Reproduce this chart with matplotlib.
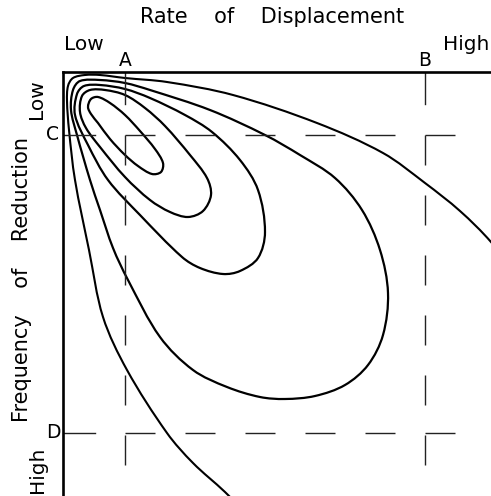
import numpy as np
import matplotlib
matplotlib.use("Agg")
import matplotlib.pyplot as plt
from matplotlib.path import Path
from matplotlib.patches import PathPatch

# schematic units: x grows to the right (rate), y grows downward (frequency)
outer_x = [258, 225, 193, 167, 127, 103, 89, 75, 69, 67, 68, 73, 85, 100, 125, 167, 233, 317, 383, 425, 460, 491, 520]
outer_y = [525, 492, 463, 433, 370, 317, 250, 180, 130, 101, 86, 78, 75, 75, 78, 82, 95, 123, 153, 183, 211, 242, 280]

big_x = [71, 73, 80, 100, 125, 150, 210, 265, 300, 335, 362, 380, 388, 383, 368, 345, 315, 285, 260, 227, 193, 160, 128, 113, 100, 90, 77]
big_y = [110, 90, 81, 80, 83, 90, 110, 135, 155, 178, 210, 250, 293, 335, 365, 385, 396, 399, 397, 387, 370, 337, 280, 248, 210, 180, 135]

mid_x = [75, 77, 84, 100, 125, 150, 185, 212, 240, 258, 265, 258, 240, 223, 200, 182, 140, 108, 88]
mid_y = [115, 94, 86, 85, 89, 98, 115, 132, 160, 190, 232, 258, 271, 274, 268, 257, 215, 180, 145]

small_x = [80, 82, 90, 105, 125, 145, 165, 190, 207, 211, 203, 188, 170, 150, 125, 100, 86]
small_y = [112, 96, 90, 90, 95, 108, 126, 155, 178, 195, 211, 217, 212, 200, 177, 147, 128]

inner_x = [88, 91, 98, 110, 125, 140, 155, 163, 161, 152, 138, 125, 110, 98, 91]
inner_y = [107, 99, 97, 103, 115, 131, 149, 163, 172, 174, 166, 155, 139, 123, 114]

grid_x = [125, 425]   # A, B
grid_y = [135, 433]   # C, D
x0, y0 = 63, 72       # Low / Low corner
tick_len = 32
dash_x_end, dash_y_end = 456, 465


def smooth_path(xs, ys, closed=False):
    pts = np.column_stack([xs, ys]).astype(float)
    n = len(pts)
    if closed:
        prev = np.roll(pts, 1, axis=0)
        nxt = np.roll(pts, -1, axis=0)
    else:
        prev = np.vstack([pts[0], pts[:-1]])
        nxt = np.vstack([pts[1:], pts[-1]])
    d_prev = np.linalg.norm(pts - prev, axis=1)
    d_next = np.linalg.norm(nxt - pts, axis=1)
    tang = (nxt - prev) / (d_prev + d_next)[:, None]
    verts = [pts[0]]
    codes = [Path.MOVETO]
    segs = n if closed else n - 1
    for i in range(segs):
        j = (i + 1) % n
        d = np.linalg.norm(pts[j] - pts[i])
        verts += [pts[i] + tang[i] * d / 3, pts[j] - tang[j] * d / 3, pts[j]]
        codes += [Path.CURVE4] * 3
    return Path(verts, codes)


fig = plt.figure(figsize=(4.91, 4.96), dpi=100)
ax = fig.add_axes([x0 / 491, 0, (491 - x0) / 491, (496 - y0) / 496])
ax.set_xlim(x0, 491)
ax.set_ylim(496, y0)
ax.set_xticks([])
ax.set_yticks([])
for s in ["bottom", "right"]:
    ax.spines[s].set_visible(False)
for s in ["top", "left"]:
    ax.spines[s].set_linewidth(1.9)

# contour curves
ax.add_patch(PathPatch(smooth_path(outer_x, outer_y), fill=False, lw=1.5, ec="black"))
for xs, ys in [(big_x, big_y), (mid_x, mid_y), (small_x, small_y), (inner_x, inner_y)]:
    ax.add_patch(PathPatch(smooth_path(xs, ys, closed=True), fill=False, lw=1.6, ec="black"))

# reference marks A, B, C, D
dash = (0, (21.6, 21.6))
for gx in grid_x:
    ax.plot([gx, gx], [y0, y0 + tick_len], color="#222222", lw=1.0)
    ax.plot([gx, gx], [grid_y[0], dash_y_end], color="#222222", lw=1.0, linestyle=dash)
for gy in grid_y:
    ax.plot([x0, x0 + tick_len], [gy, gy], color="#222222", lw=1.0)
    ax.plot([grid_x[0], dash_x_end], [gy, gy], color="#222222", lw=1.0, linestyle=dash)

kw = dict(ha="center", va="center", clip_on=False)
ax.text(272, 17, "Rate    of    Displacement", fontsize=15, **kw)
ax.text(84, 44, "Low", fontsize=14.5, **kw)
ax.text(466, 45, "High", fontsize=14.5, **kw)
ax.text(grid_x[0], 60, "A", fontsize=13.5, **kw)
ax.text(grid_x[1], 60, "B", fontsize=13.5, **kw)
ax.text(36, 99, "Low", fontsize=14.5, rotation=90, **kw)
ax.text(52, grid_y[0], "C", fontsize=13.5, **kw)
ax.text(53, grid_y[1], "D", fontsize=13.5, **kw)
ax.text(22, 280, "Frequency    of    Reduction", fontsize=15, rotation=90, **kw)
ax.text(37, 470, "High", fontsize=14.5, rotation=90, **kw)

fig.savefig("out.png", dpi=100)
